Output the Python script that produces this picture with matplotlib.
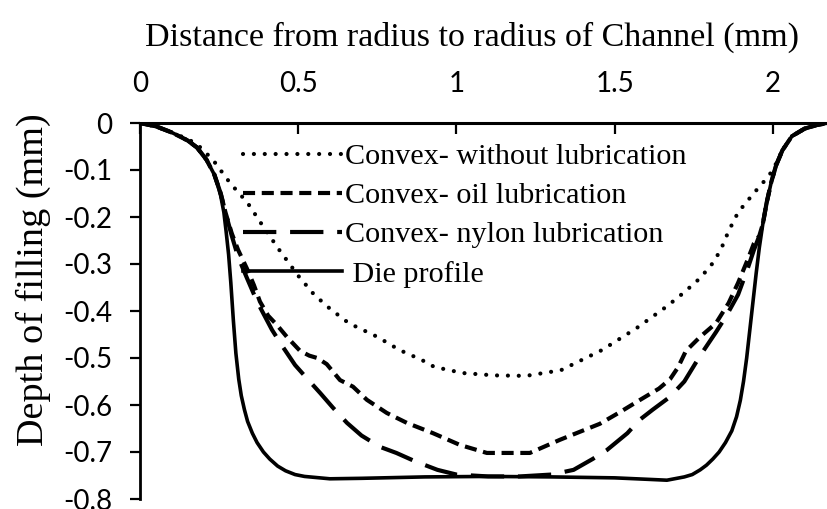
import matplotlib
matplotlib.use("Agg")
import matplotlib.pyplot as plt

# die profile
die_x = [0, 0.05, 0.1, 0.15, 0.18, 0.21, 0.235, 0.245, 0.255, 0.265, 0.272, 0.28, 0.287,
         0.295, 0.303, 0.312, 0.32, 0.33, 0.34, 0.355, 0.37, 0.39, 0.41, 0.435, 0.46, 0.49,
         0.52, 0.6, 0.7, 0.9, 1.1, 1.3, 1.5, 1.6, 1.665, 1.72, 1.745, 1.77, 1.79, 1.81,
         1.83, 1.85, 1.87, 1.885, 1.897, 1.907, 1.917, 1.927, 1.937, 1.947, 1.957, 1.968,
         1.98, 1.995, 2.01, 2.03, 2.06, 2.1, 2.14, 2.174]
die_y = [0, -0.007, -0.02, -0.037, -0.052, -0.078, -0.11, -0.13, -0.155, -0.19, -0.23,
         -0.28, -0.34, -0.42, -0.49, -0.545, -0.58, -0.61, -0.635, -0.66, -0.68, -0.70,
         -0.715, -0.73, -0.74, -0.748, -0.752, -0.757, -0.756, -0.753, -0.752, -0.753,
         -0.755, -0.758, -0.76, -0.753, -0.748, -0.738, -0.728, -0.715, -0.70, -0.68,
         -0.655, -0.625, -0.59, -0.55, -0.50, -0.44, -0.38, -0.32, -0.265, -0.215, -0.17,
         -0.125, -0.09, -0.058, -0.028, -0.012, -0.004, 0]

# convex - without lubrication
dry_x = [0, 0.05, 0.1, 0.15, 0.18, 0.23, 0.285, 0.34, 0.39, 0.44, 0.5, 0.55, 0.6, 0.66,
         0.75, 0.82, 0.89, 0.93, 1.02, 1.12, 1.22, 1.33, 1.46, 1.57, 1.665, 1.72, 1.77,
         1.81, 1.835, 1.86, 1.89, 1.94, 1.98, 2.0, 2.03, 2.06, 2.1, 2.14, 2.174]
dry_y = [0, -0.007, -0.02, -0.034, -0.045, -0.078, -0.128, -0.17, -0.221, -0.27, -0.325,
         -0.365, -0.395, -0.426, -0.455, -0.483, -0.504, -0.519, -0.532, -0.537, -0.538,
         -0.526, -0.483, -0.436, -0.39, -0.36, -0.33, -0.298, -0.27, -0.23, -0.19, -0.149,
         -0.118, -0.1, -0.058, -0.028, -0.012, -0.004, 0]

# convex - oil lubrication
oil_x = [0, 0.05, 0.1, 0.15, 0.18, 0.21, 0.235, 0.255, 0.27, 0.29, 0.31, 0.338, 0.36, 0.379,
         0.405, 0.433, 0.464, 0.506, 0.535, 0.56, 0.59, 0.632, 0.673, 0.717, 0.78, 0.843,
         0.926, 1.011, 1.096, 1.232, 1.327, 1.453, 1.517, 1.578, 1.64, 1.675, 1.70, 1.725,
         1.77, 1.82, 1.86, 1.89, 1.92, 1.94, 1.957, 1.968, 1.98, 1.995, 2.01, 2.03, 2.06,
         2.1, 2.14, 2.174]
oil_y = [0, -0.007, -0.02, -0.037, -0.052, -0.078, -0.11, -0.15, -0.19, -0.235, -0.27,
         -0.31, -0.345, -0.38, -0.41, -0.43, -0.455, -0.485, -0.495, -0.5, -0.513, -0.547,
         -0.561, -0.589, -0.617, -0.638, -0.66, -0.685, -0.702, -0.702, -0.674, -0.64,
         -0.615, -0.59, -0.565, -0.545, -0.52, -0.485, -0.455, -0.426, -0.383, -0.34,
         -0.291, -0.256, -0.24, -0.215, -0.17, -0.125, -0.09, -0.058, -0.028, -0.012,
         -0.004, 0]

# convex - nylon lubrication
nyl_x = [0, 0.05, 0.1, 0.15, 0.18, 0.21, 0.235, 0.255, 0.27, 0.29, 0.31, 0.338, 0.37,
         0.417, 0.45, 0.49, 0.527, 0.57, 0.61, 0.654, 0.7, 0.758, 0.81, 0.87, 0.94, 1.0,
         1.1, 1.2, 1.3, 1.37, 1.43, 1.475, 1.54, 1.578, 1.62, 1.674, 1.72, 1.77, 1.82,
         1.853, 1.89, 1.92, 1.94, 1.957, 1.968, 1.98, 1.995, 2.01, 2.03, 2.06, 2.1, 2.14,
         2.174]
nyl_y = [0, -0.007, -0.02, -0.037, -0.052, -0.078, -0.11, -0.15, -0.19, -0.24, -0.285,
         -0.33, -0.38, -0.44, -0.475, -0.515, -0.543, -0.575, -0.606, -0.638, -0.665,
         -0.689, -0.702, -0.72, -0.738, -0.748, -0.752, -0.752, -0.748, -0.738, -0.715,
         -0.696, -0.66, -0.632, -0.61, -0.583, -0.55, -0.495, -0.445, -0.41, -0.365,
         -0.31, -0.27, -0.24, -0.215, -0.17, -0.125, -0.09, -0.058, -0.028, -0.012,
         -0.004, 0]

labels = ["Convex- without lubrication", "Convex- oil lubrication",
          "Convex- nylon lubrication", " Die profile"]
xticks = [0, 0.5, 1, 1.5, 2]
yticks = [0, -0.1, -0.2, -0.3, -0.4, -0.5, -0.6, -0.7, -0.8]

fig = plt.figure(figsize=(8.28, 5.09), dpi=100)
ax = fig.add_axes([140 / 828, 10 / 509, 688 / 828, 376 / 509])

ax.plot(dry_x, dry_y, color="black", lw=3.0, linestyle=(0, (0.01, 2.6)),
        dash_capstyle="round", label=labels[0])
ax.plot(oil_x, oil_y, color="black", lw=3.0, linestyle=(0, (2.9, 1.6)),
        label=labels[1])
ax.plot(nyl_x, nyl_y, color="black", lw=3.0, linestyle=(0, (8.0, 3.3)),
        label=labels[2])
ax.plot(die_x, die_y, color="black", lw=2.6, label=labels[3])

ax.set_xlim(0, 2.174)
ax.set_ylim(-0.8, 0)
ax.xaxis.tick_top()
ax.set_xticks(xticks)
ax.set_xticklabels(["0", "0.5", "1", "1.5", "2"])
ax.set_yticks(yticks)
ax.set_yticklabels(["0", "-0.1", "-0.2", "-0.3", "-0.4", "-0.5", "-0.6", "-0.7", "-0.8"])
ax.tick_params(axis="x", direction="in", length=8, width=1.6, pad=19,
               labelsize=20, labelfontfamily="Lato")
ax.tick_params(axis="y", direction="out", length=7, width=1.6, pad=13,
               labelsize=20, labelfontfamily="Lato")
ax.spines["right"].set_visible(False)
ax.spines["bottom"].set_visible(False)
ax.spines["top"].set_linewidth(2.2)
ax.spines["left"].set_linewidth(2.0)

fig.text(472 / 828, 1 - 46 / 509, "Distance from radius to radius of Channel (mm)",
         ha="center", va="baseline", fontsize=24.5, family="Liberation Serif")
fig.text(33 / 828, 1 - 280 / 509, "Depth of filling (mm)", rotation=90,
         ha="center", va="center", fontsize=27.5, family="Liberation Serif")

ax.legend(loc="upper left", bbox_to_anchor=(243 / 828, 1 - 143 / 509),
          bbox_transform=fig.transFigure, frameon=False, borderpad=0,
          borderaxespad=0, handlelength=3.3, handletextpad=0.1, labelspacing=0.4,
          prop={"family": "Liberation Serif", "size": 21.7})

fig.savefig("out.png", dpi=100)
